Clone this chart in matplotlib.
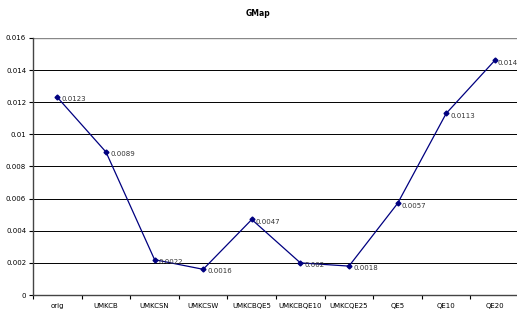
import matplotlib.pyplot as plt

categories = ['orig', 'UMKCB', 'UMKCSN', 'UMKCSW', 'UMKCBQE5', 'UMKCBQE10',
              'UMKCQE25', 'QE5', 'QE10', 'QE20']
values = [0.0123, 0.0089, 0.0022, 0.0016, 0.0047, 0.002, 0.0018, 0.0057, 0.0113, 0.0146]
point_labels = ['0.0123', '0.0089', '0.0022', '0.0016', '0.0047', '0.002',
                '0.0018', '0.0057', '0.0113', '0.014']
yticks = [0, 0.002, 0.004, 0.006, 0.008, 0.01, 0.012, 0.014, 0.016]
ytick_labels = ['0', '0.002', '0.004', '0.006', '0.008', '0.01', '0.012', '0.014', '0.016']

fig = plt.figure(figsize=(5.17, 3.11), dpi=100)
ax = fig.add_axes([0.064, 0.0514, 0.94, 0.8266])

x = list(range(len(categories)))
ax.plot(x, values, color='#000080', lw=0.9, marker='D', ms=2.5, zorder=3)
for xi, v, lab in zip(x, values, point_labels):
    dx = 2 if xi == len(categories) - 1 else 3
    ax.annotate(lab, (xi, v), xytext=(dx, -1.5), textcoords='offset points',
                fontsize=5, color='#333333', va='center', ha='left', zorder=4)

ax.set_xlim(-0.5, len(categories) - 0.5)
ax.set_ylim(0, 0.016)
ax.set_yticks(yticks)
ax.set_yticklabels(ytick_labels, fontsize=5)
ax.set_xticks(x)
ax.set_xticklabels(categories, fontsize=5)
ax.set_xticks([i + 0.5 for i in range(-1, len(categories))], minor=True)
ax.tick_params(axis='x', which='major', length=0, pad=6)
ax.tick_params(axis='x', which='minor', length=3, direction='out', width=0.8)
ax.tick_params(axis='y', length=3, direction='out', width=0.8, pad=2)

ax.yaxis.grid(True, color='black', lw=0.7)
ax.set_axisbelow(True)
for s in ['top', 'right']:
    ax.spines[s].set_visible(False)
ax.spines['left'].set_linewidth(1.0)
ax.spines['left'].set_color('#444444')
ax.spines['bottom'].set_linewidth(1.0)
ax.spines['bottom'].set_color('#444444')
ax.axhline(0.016, color='#888888', lw=1.0)

fig.text(0.5, 0.955, 'GMap', fontsize=5.5, fontweight='bold', ha='center', va='center')

fig.savefig('out.png', dpi=100)
